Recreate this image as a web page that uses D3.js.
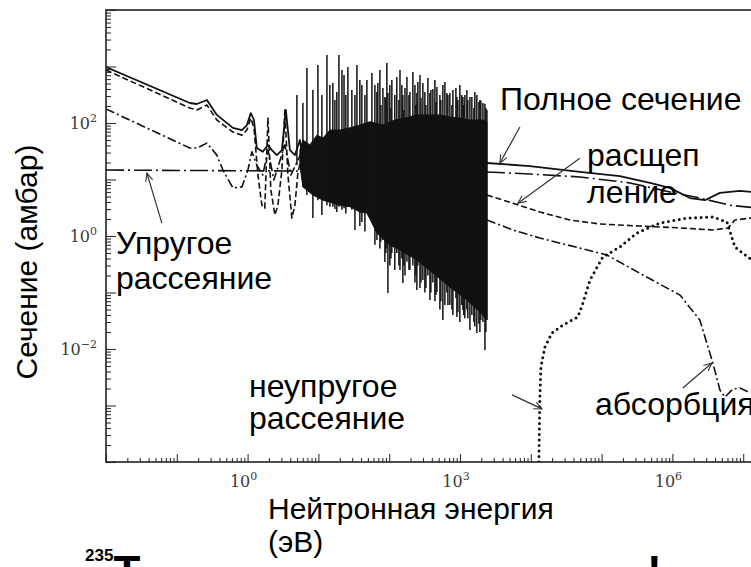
<!DOCTYPE html>
<html><head><meta charset="utf-8">
<script src="https://cdn.jsdelivr.net/npm/d3@7"></script>
<style>
body{margin:0;background:#fff}
svg{display:block;background:#fff}
</style></head><body>
<svg id="c" width="751" height="567"></svg>
<script>
// ---------- DATA (energy in eV, cross-section in barns) ----------
const totalLow = [[0.01,980],[0.153,226],[0.192,217],[0.266,255],[0.368,139],[0.62,82],[0.831,75],[0.977,92],[1.11,150],[1.23,113],[1.35,36],[1.64,31],[1.94,41],[2.2,33],[2.59,27],[3.05,33],[3.47,170],[3.96,33],[4.66,27],[5.48,50],[6.04,22]];
const fissionLow = [[0.01,867],[0.153,184],[0.192,170],[0.266,208],[0.368,113],[0.62,69],[0.831,61],[0.977,75],[1.11,122],[1.23,82],[1.4,12],[1.59,3.5],[1.75,3.1],[1.94,122],[2.13,6.5],[2.43,2.35],[2.68,3.5],[3.05,14.7],[3.36,170],[3.71,12],[4.22,2.08],[4.66,3.5],[5.13,13],[6.04,33]];
const captureLow = [[0.01,177],[0.153,36],[0.192,36],[0.266,44],[0.368,27],[0.448,14.7],[0.62,7.1],[0.831,7.4],[1.01,14.7],[1.15,31],[1.35,18],[1.64,12],[1.94,33],[2.35,9.8],[3.36,41],[4.09,12],[5.13,22],[6.04,33]];
const elasticLow = [[0.01,14.7],[6.44,14.1]];

const totalHigh = [[2400,19.6],[9710,17.3],[49300,13.6],[181000,11.5],[481000,8.7],[922000,7.1],[1.77e6,4.7],[2.88e6,4.3],[4.69e6,5.8],[8.98e6,6.3],[1.72e7,5.8]];
const elasticHigh = [[2400,13.6],[9710,12.5],[49300,11.1],[251000,8.7],[922000,6.0],[2.44e6,4.7],[6.49e6,3.5],[1.72e7,3.1]];
const fissionHigh = [[2400,5.3],[5580,3.8],[13400,2.66],[35600,1.92],[94600,1.63],[348000,1.5],[1.28e6,1.39],[3.73e6,1.28],[6.09e6,1.39],[7.64e6,1.92],[1.72e7,2.17]];
const captureHigh = [[2400,1.92],[5580,1.28],[13400,0.92],[49300,0.61],[119000,0.46],[383000,0.204],[1.28e6,0.09],[2.44e6,0.0326],[3.73e6,0.00565],[4.69e6,0.00188],[5.52e6,0.00141],[7.16e6,0.00196],[8.98e6,0.00204],[1.28e7,0.00166]];
const inelastic = [[13000,1e-4],[13400,0.00125],[13900,0.0048],[15800,0.0108],[19900,0.0192],[28400,0.0266],[46200,0.0368],[54400,0.065],[68400,0.166],[104000,0.425],[181000,0.64],[315000,1.13],[665000,1.7],[1.6e6,2.08],[3.73e6,2.17],[5.89e6,1.77],[7.64e6,0.64],[1.16e7,0.425],[1.72e7,0.307]];

// resolved-resonance region: dense envelope and individual spikes [E, top, bottom]
const forestUpper = [[5.48,33],[6.04,50],[7.59,41],[9.52,61],[11.6,54],[14.5,75],[20.1,75],[27.9,82],[38.5,92],[53.3,105],[81.5,92],[120,113],[167,122],[246,139],[376,139],[520,139],[719,128],[995,122],[1380,113],[2110,113],[2400,104]];
const forestLower = [[5.48,18],[6.04,7.4],[8.36,5.3],[11.6,4.3],[20.1,3.5],[27.9,3.3],[38.5,2.66],[48.4,2.55],[67,1.13],[102,0.69],[142,0.565],[246,0.376],[414,0.221],[719,0.125],[1250,0.074],[1910,0.045],[2400,0.0326]];
const spikes = [[4.97,313,18],[6.04,226,7.4],[6.88,940,5.3],[8.36,384,2.08],[9.84,1060,4.3],[11.2,313,2.35],[13.2,1600,3.5],[14.5,471,3.3],[16,510,3.3],[17.1,255,3.0],[18.2,354,2.66],[19.5,1600,3.3],[21.5,867,2.9],[23,707,3.1],[24.4,313,2.5],[26.1,980,3.3],[29.7,384,2.9],[32.8,313,1.28],[35,1060,2.9],[38.5,577,1.5],[41.1,471,1.77],[45.4,313,1.2],[48.4,577,2.55],[57,767,2.0],[62.8,471,0.7],[67,354,0.85],[69.2,510,1.13],[73.9,867,0.6],[76.4,208,0.8],[81.5,416,0.85],[86.9,289,0.347],[89.8,277,0.5],[92.7,1150,0.6],[95.9,340,0.098],[102,471,0.3],[106,184,0.4],[109,577,0.5],[120,313,0.25],[128,652,0.5],[137,255,0.3],[142,867,0.25],[151,471,0.4],[156,313,0.147],[161,170,0.3],[167,416,0.2],[178,652,0.35],[190,313,0.25],[196,354,0.25],[216,800,0.3],[231,471,0.15],[238,208,0.2],[246,340,0.111],[254,532,0.3],[272,707,0.12],[281,277,0.15],[299,510,0.166],[319,354,0.1],[330,208,0.12],[352,626,0.2],[376,340,0.074],[388,384,0.1],[414,400,0.15],[442,577,0.07],[457,235,0.09],[472,434,0.102],[520,313,0.05],[537,255,0.07],[573,471,0.0326],[612,532,0.06],[653,340,0.1],[675,313,0.06],[719,340,0.06],[769,208,0.05],[794,384,0.04],[875,416,0.08],[904,289,0.0368],[934,255,0.045],[995,471,0.03],[1060,313,0.06],[1100,289,0.049],[1130,208,0.04],[1170,313,0.035],[1250,384,0.05],[1290,255,0.035],[1380,289,0.0217],[1470,289,0.04],[1570,184,0.03],[1620,354,0.025],[1730,313,0.0192],[1850,235,0.028],[1910,255,0.02],[1970,250,0.0326],[2110,226,0.03],[2250,220,0.0096],[2320,184,0.02],[2400,170,0.0326]];

const xTickLabels = [1, 1e3, 1e6];
const xTickExp = ["0","3","6"];
const yTickLabels = [1e-2, 1, 1e2];
const yTickExp = ["\u22122","0","2"];

// ---------- SCALES ----------
const svg = d3.select("#c");
const x = d3.scaleLog().domain([1e-2,1e8]).range([106, 106+10*70.8]);
const y = d3.scaleLog().domain([1e-4,1e4]).range([462, 10]);
const ink = "#111";

const defs = svg.append("defs");
defs.append("clipPath").attr("id","plot")
  .append("rect").attr("x",106).attr("y",10).attr("width",x(1e8)-106).attr("height",452);
defs.append("marker").attr("id","arr").attr("viewBox","0 0 10 10").attr("refX",9).attr("refY",5)
  .attr("markerWidth",9).attr("markerHeight",9).attr("orient","auto").attr("markerUnits","userSpaceOnUse")
  .append("path").attr("d","M0,1 L9,5 L0,9").attr("fill","none").attr("stroke","#333").attr("stroke-width",1.2);

// ---------- TICKS ----------
const majors = d3.range(-2,9).map(k=>Math.pow(10,k));
const minors = [];
for (let k=-2;k<8;k++) for (let m=2;m<10;m++) minors.push(m*Math.pow(10,k));
const yMaj = d3.range(-4,5).map(k=>Math.pow(10,k));
const yMin = [];
for (let k=-4;k<4;k++) for (let m=2;m<10;m++) yMin.push(m*Math.pow(10,k));

function ax(g){ g.select(".domain").remove(); g.selectAll("line").attr("stroke","#333").attr("stroke-width",1.1); g.selectAll("text").remove(); }
svg.append("g").attr("transform","translate(0,462)").call(d3.axisBottom(x).tickValues(minors).tickSize(-4).tickFormat("")).call(ax);
svg.append("g").attr("transform","translate(0,462)").call(d3.axisBottom(x).tickValues(majors).tickSize(-8).tickFormat("")).call(ax);
svg.append("g").attr("transform","translate(106,0)").call(d3.axisLeft(y).tickValues(yMin).tickSize(-5).tickFormat("")).call(ax);
svg.append("g").attr("transform","translate(106,0)").call(d3.axisLeft(y).tickValues(yMaj).tickSize(-10).tickFormat("")).call(ax);

// frame
svg.append("rect").attr("x",106).attr("y",10).attr("width",x(1e8)-106).attr("height",452)
  .attr("fill","none").attr("stroke","#222").attr("stroke-width",1.6);

// tick labels
const tl = svg.append("g").attr("font-family","DejaVu Serif, Liberation Serif, serif").attr("fill","#3a3a3a");
xTickLabels.forEach((v,i)=>{
  const t = tl.append("text").attr("x",x(v)-4).attr("y",487).attr("text-anchor","middle").attr("font-size",16);
  t.append("tspan").text("10");
  t.append("tspan").attr("dy",-7).attr("font-size",11).text(xTickExp[i]);
});
yTickLabels.forEach((v,i)=>{
  const t = tl.append("text").attr("x",97).attr("y",y(v)+6).attr("text-anchor","end").attr("font-size",16);
  t.append("tspan").text("10");
  t.append("tspan").attr("dy",-7).attr("font-size",11).text(yTickExp[i]);
});

// ---------- CURVES ----------
const P = svg.append("g").attr("clip-path","url(#plot)");
const line = d3.line().x(d=>x(d[0])).y(d=>y(d[1]));
const styles = {
  total:{dash:null,w:1.8},
  fission:{dash:"6,3",w:1.6},
  capture:{dash:"9,3,2,3",w:1.6},
  elastic:{dash:"18,4,2,4",w:1.6},
  inel:{dash:"0,5.5",w:3}
};
function draw(data,s){
  P.append("path").attr("d",line(data)).attr("fill","none").attr("stroke",ink)
   .attr("stroke-width",s.w).attr("stroke-dasharray",s.dash).attr("stroke-linecap", s===styles.inel?"round":"butt")
   .attr("stroke-linejoin","round");
}
draw(elasticLow,styles.elastic);
draw(captureLow,styles.capture);
draw(fissionLow,styles.fission);
draw(totalLow,styles.total);
draw(elasticHigh,styles.elastic);
draw(captureHigh,styles.capture);
draw(fissionHigh,styles.fission);
draw(totalHigh,styles.total);
draw(inelastic,styles.inel);

// resonance forest
P.append("path").attr("d", line(forestUpper.concat(forestLower.slice().reverse())) + "Z")
  .attr("fill",ink).attr("stroke",ink).attr("stroke-width",1);
P.selectAll("line.sp").data(spikes).join("line").attr("class","sp")
  .attr("x1",d=>x(d[0])).attr("x2",d=>x(d[0])).attr("y1",d=>y(d[1])).attr("y2",d=>y(d[2]))
  .attr("stroke",ink).attr("stroke-width",1.5);

// ---------- ANNOTATIONS ----------
const arrows = [
  {tip:[3660,19.6], dx:20, dy:-36},
  {tip:[6560,3.8], dx:62, dy:-45},
  {tip:[0.0378,13], dx:15, dy:50},
  {tip:[14400,0.00087], dx:-30, dy:-14},
  {tip:[3.61e6,0.00565], dx:-29, dy:25}
];
arrows.forEach(a=>{
  const tx=x(a.tip[0]), ty=y(a.tip[1]);
  svg.append("line").attr("x1",tx+a.dx).attr("y1",ty+a.dy).attr("x2",tx).attr("y2",ty)
    .attr("stroke","#333").attr("stroke-width",1.2).attr("marker-end","url(#arr)");
});

const labels = [
  [["Полное сечение"],500,110,0],
  [["расщеп","ление"],587,166,37],
  [["Упругое","рассеяние"],116,254,35],
  [["неупругое","рассеяние"],249,397,32],
  [["абсорбция"],595,415,0]
];
const lg = svg.append("g").attr("font-family","Liberation Sans, Arial, sans-serif").attr("font-size",32).attr("fill","#000");
labels.forEach(l=>{
  const t = lg.append("text").attr("x",l[1]).attr("y",l[2]);
  l[0].forEach((s,i)=>t.append("tspan").attr("x",l[1]).attr("dy",i?l[3]:0).text(s));
});

// axis titles
lg.append("text").attr("transform","translate(37,262) rotate(-90)").attr("text-anchor","middle").attr("font-size",30).text("Сечение (амбар)");
const xt = lg.append("text").attr("x",268).attr("y",519).attr("font-size",30);
xt.append("tspan").attr("x",268).text("Нейтронная энергия");
xt.append("tspan").attr("x",268).attr("dy",33).text("(эВ)");

// cut-off title at bottom
const tt = svg.append("text").attr("x",85).attr("y",561).attr("font-family","Liberation Sans, Arial, sans-serif").attr("font-weight","bold");
tt.append("tspan").attr("font-size",17).text("235");
tt.append("tspan").attr("font-size",44).attr("dy",26).text("Т");
svg.append("text").attr("x",647).attr("y",587).attr("font-family","Liberation Sans, Arial, sans-serif").attr("font-weight","bold").attr("font-size",44).text("!");
</script>
</body></html>
